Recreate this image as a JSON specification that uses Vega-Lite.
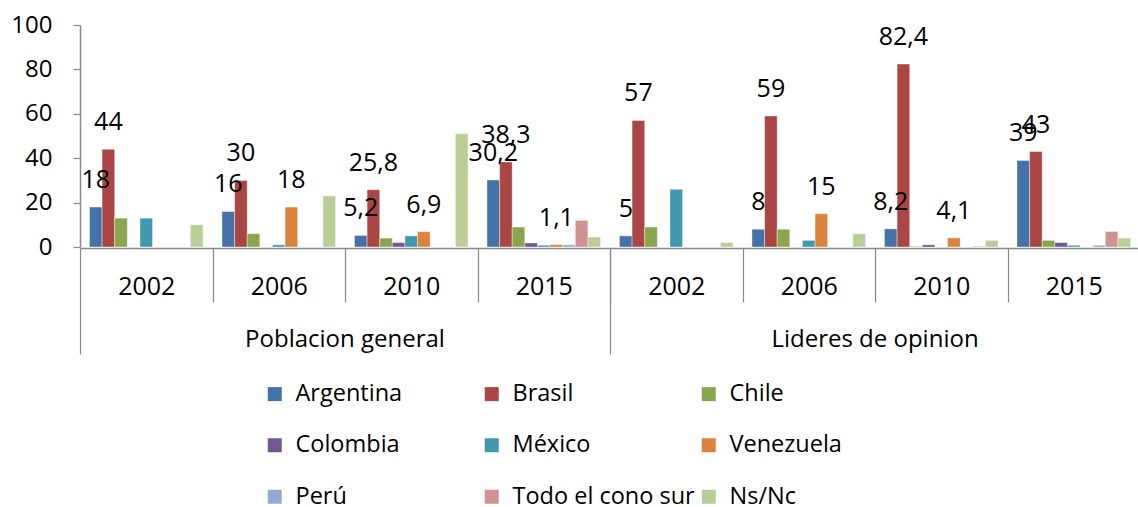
{
  "$schema": "https://vega.github.io/schema/vega-lite/v6.json",
  "padding": {"left": 10, "top": 13, "right": 0, "bottom": 0},
  "autosize": {"type": "pad"},
  "background": "white",
  "data": {"values": [
    {"grupo": "Poblacion general", "anio": "2002", "pais": "Argentina", "valor": 18},
    {"grupo": "Poblacion general", "anio": "2002", "pais": "Brasil", "valor": 44},
    {"grupo": "Poblacion general", "anio": "2002", "pais": "Chile", "valor": 13},
    {"grupo": "Poblacion general", "anio": "2002", "pais": "México", "valor": 13},
    {"grupo": "Poblacion general", "anio": "2002", "pais": "Ns/Nc", "valor": 10},
    {"grupo": "Poblacion general", "anio": "2006", "pais": "Argentina", "valor": 16},
    {"grupo": "Poblacion general", "anio": "2006", "pais": "Brasil", "valor": 30},
    {"grupo": "Poblacion general", "anio": "2006", "pais": "Chile", "valor": 6},
    {"grupo": "Poblacion general", "anio": "2006", "pais": "México", "valor": 1},
    {"grupo": "Poblacion general", "anio": "2006", "pais": "Venezuela", "valor": 18},
    {"grupo": "Poblacion general", "anio": "2006", "pais": "Ns/Nc", "valor": 23},
    {"grupo": "Poblacion general", "anio": "2010", "pais": "Argentina", "valor": 5.2},
    {"grupo": "Poblacion general", "anio": "2010", "pais": "Brasil", "valor": 25.8},
    {"grupo": "Poblacion general", "anio": "2010", "pais": "Chile", "valor": 4},
    {"grupo": "Poblacion general", "anio": "2010", "pais": "Colombia", "valor": 2},
    {"grupo": "Poblacion general", "anio": "2010", "pais": "México", "valor": 5},
    {"grupo": "Poblacion general", "anio": "2010", "pais": "Venezuela", "valor": 6.9},
    {"grupo": "Poblacion general", "anio": "2010", "pais": "Ns/Nc", "valor": 51},
    {"grupo": "Poblacion general", "anio": "2015", "pais": "Argentina", "valor": 30.2},
    {"grupo": "Poblacion general", "anio": "2015", "pais": "Brasil", "valor": 38.3},
    {"grupo": "Poblacion general", "anio": "2015", "pais": "Chile", "valor": 9},
    {"grupo": "Poblacion general", "anio": "2015", "pais": "Colombia", "valor": 1.8},
    {"grupo": "Poblacion general", "anio": "2015", "pais": "México", "valor": 0.8},
    {"grupo": "Poblacion general", "anio": "2015", "pais": "Venezuela", "valor": 1.1},
    {"grupo": "Poblacion general", "anio": "2015", "pais": "Perú", "valor": 1},
    {"grupo": "Poblacion general", "anio": "2015", "pais": "Todo el cono sur", "valor": 12},
    {"grupo": "Poblacion general", "anio": "2015", "pais": "Ns/Nc", "valor": 4.5},
    {"grupo": "Lideres de opinion", "anio": "2002", "pais": "Argentina", "valor": 5},
    {"grupo": "Lideres de opinion", "anio": "2002", "pais": "Brasil", "valor": 57},
    {"grupo": "Lideres de opinion", "anio": "2002", "pais": "Chile", "valor": 9},
    {"grupo": "Lideres de opinion", "anio": "2002", "pais": "México", "valor": 26},
    {"grupo": "Lideres de opinion", "anio": "2002", "pais": "Ns/Nc", "valor": 2},
    {"grupo": "Lideres de opinion", "anio": "2006", "pais": "Argentina", "valor": 8},
    {"grupo": "Lideres de opinion", "anio": "2006", "pais": "Brasil", "valor": 59},
    {"grupo": "Lideres de opinion", "anio": "2006", "pais": "Chile", "valor": 8},
    {"grupo": "Lideres de opinion", "anio": "2006", "pais": "México", "valor": 3},
    {"grupo": "Lideres de opinion", "anio": "2006", "pais": "Venezuela", "valor": 15},
    {"grupo": "Lideres de opinion", "anio": "2006", "pais": "Ns/Nc", "valor": 6},
    {"grupo": "Lideres de opinion", "anio": "2010", "pais": "Argentina", "valor": 8.2},
    {"grupo": "Lideres de opinion", "anio": "2010", "pais": "Brasil", "valor": 82.4},
    {"grupo": "Lideres de opinion", "anio": "2010", "pais": "Chile", "valor": 0.3},
    {"grupo": "Lideres de opinion", "anio": "2010", "pais": "Colombia", "valor": 1},
    {"grupo": "Lideres de opinion", "anio": "2010", "pais": "Venezuela", "valor": 4.1},
    {"grupo": "Lideres de opinion", "anio": "2010", "pais": "Todo el cono sur", "valor": 0.3},
    {"grupo": "Lideres de opinion", "anio": "2010", "pais": "Ns/Nc", "valor": 3},
    {"grupo": "Lideres de opinion", "anio": "2015", "pais": "Argentina", "valor": 39},
    {"grupo": "Lideres de opinion", "anio": "2015", "pais": "Brasil", "valor": 43},
    {"grupo": "Lideres de opinion", "anio": "2015", "pais": "Chile", "valor": 3},
    {"grupo": "Lideres de opinion", "anio": "2015", "pais": "Colombia", "valor": 2},
    {"grupo": "Lideres de opinion", "anio": "2015", "pais": "México", "valor": 0.8},
    {"grupo": "Lideres de opinion", "anio": "2015", "pais": "Perú", "valor": 0.8},
    {"grupo": "Lideres de opinion", "anio": "2015", "pais": "Todo el cono sur", "valor": 7},
    {"grupo": "Lideres de opinion", "anio": "2015", "pais": "Ns/Nc", "valor": 4}
  ]},
  "facet": {
    "column": {
      "field": "grupo", "type": "nominal",
      "sort": ["Poblacion general", "Lideres de opinion"],
      "header": {"title": null, "labelOrient": "bottom", "labelFontSize": 24, "labelFont": "Open Sans", "labelColor": "#000000", "labelPadding": -27}
    }
  },
  "spacing": 0,
  "spec": {
    "width": 530,
    "height": 222,
    "layer": [
      {
        "mark": {"type": "bar", "stroke": "white", "strokeWidth": 0.8, "strokeOpacity": 0.5},
        "encoding": {
          "x": {
            "field": "anio", "type": "nominal",
            "scale": {"domain": ["2002", "2006", "2010", "2015"], "paddingInner": 0, "paddingOuter": 0},
            "axis": {
              "title": null, "labelAngle": 0, "labelFontSize": 25, "tickBand": "extent",
              "tickSize": {"condition": {"test": "datum.value == null", "value": 106}, "value": 54},
              "labelPadding": -28,
              "domainColor": "#888888", "tickColor": "#888888", "domainWidth": 1.5, "tickWidth": 1.2
            }
          },
          "xOffset": {
            "field": "pais", "type": "nominal",
            "scale": {"domain": ["Argentina", "Brasil", "Chile", "Colombia", "México", "Venezuela", "Perú", "Todo el cono sur", "Ns/Nc"], "paddingInner": 0, "paddingOuter": 0.75}
          },
          "y": {
            "field": "valor", "type": "quantitative",
            "scale": {"domain": [0, 100]},
            "axis": {"title": null, "values": [0, 20, 40, 60, 80, 100], "grid": false, "labelFontSize": 24, "tickSize": 7, "labelPadding": 21, "domainColor": "#888888", "tickColor": "#888888", "domainWidth": 1.5, "tickWidth": 1.2}
          },
          "color": {
            "field": "pais", "type": "nominal",
            "scale": {
              "domain": ["Argentina", "Brasil", "Chile", "Colombia", "México", "Venezuela", "Perú", "Todo el cono sur", "Ns/Nc"],
              "range": ["#4572A7", "#AA4643", "#89A54E", "#71588F", "#4198AF", "#DB843D", "#93A9CF", "#D19392", "#B9CD96"]
            },
            "legend": {
              "title": null, "orient": "none", "legendX": 183, "legendY": 357, "direction": "horizontal", "columns": 3,
              "symbolType": "square", "symbolSize": 196, "symbolStrokeWidth": 0, "labelFontSize": 23.5, "labelOffset": 9,
              "gridAlign": "all", "columnPadding": 2, "rowPadding": 26.5, "labelLimit": 400
            }
          }
        }
      },
      {
        "transform": [
          {"filter": "indexof(['Argentina','Brasil','Venezuela'], datum.pais) >= 0"},
          {"calculate": "replace(toString(datum.valor), '.', ',')", "as": "etiqueta"}
        ],
        "mark": {"type": "text", "baseline": "alphabetic", "dy": -19, "fontSize": 25, "color": "#000000"},
        "encoding": {
          "x": {"field": "anio", "type": "nominal"},
          "xOffset": {"field": "pais", "type": "nominal"},
          "y": {"field": "valor", "type": "quantitative"},
          "text": {"field": "etiqueta", "type": "nominal"}
        }
      }
    ]
  },
  "config": {
    "font": "Open Sans",
    "view": {"stroke": null},
    "axis": {"labelColor": "#000000", "labelFont": "Open Sans"},
    "legend": {"labelColor": "#000000", "labelFont": "Open Sans"},
    "text": {"font": "Open Sans"}
  }
}
